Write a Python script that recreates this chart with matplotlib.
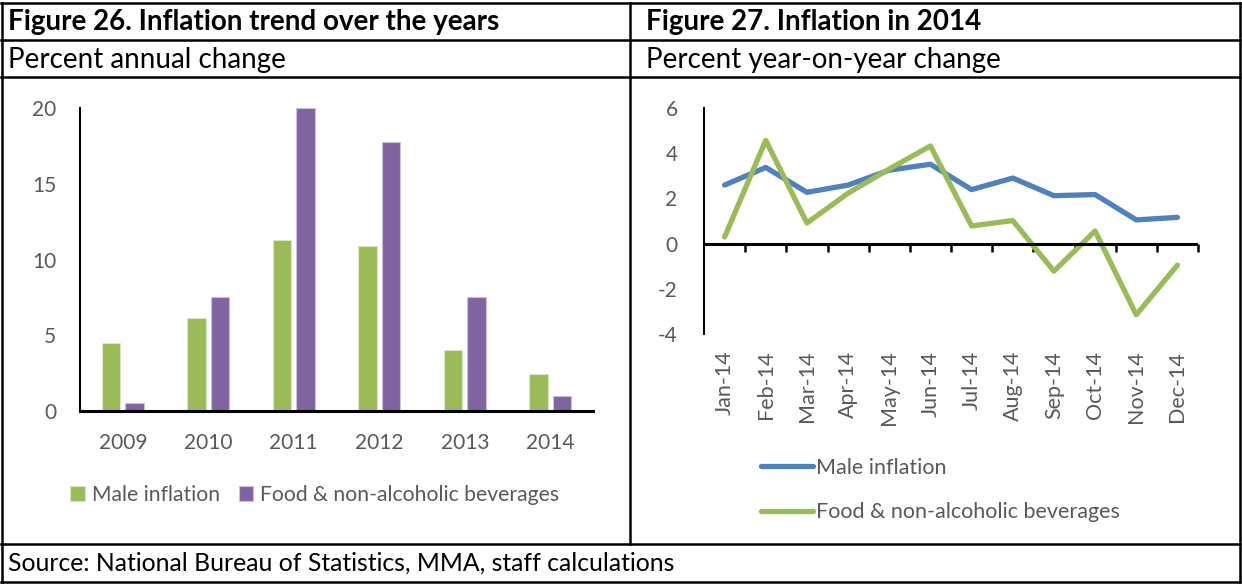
import numpy as np
import matplotlib.pyplot as plt
from matplotlib.lines import Line2D

plt.rcParams['font.family'] = ['Lato', 'DejaVu Sans']
plt.rcParams['axes.unicode_minus'] = False

years = ['2009', '2010', '2011', '2012', '2013', '2014']
male_annual = [4.5, 6.15, 11.3, 10.9, 4.0, 2.43]
food_annual = [0.5, 7.5, 20.0, 17.75, 7.5, 1.0]

months = ['Jan-14', 'Feb-14', 'Mar-14', 'Apr-14', 'May-14', 'Jun-14',
          'Jul-14', 'Aug-14', 'Sep-14', 'Oct-14', 'Nov-14', 'Dec-14']
male_2014 = [2.59, 3.37, 2.27, 2.59, 3.25, 3.51, 2.39, 2.9, 2.12, 2.17, 1.05, 1.16]
food_2014 = [0.29, 4.57, 0.91, 2.23, 3.3, 4.32, 0.78, 1.02, -1.22, 0.56, -3.15, -0.95]

green = '#9BBB59'
purple = '#8064A2'
blue = '#4F81BD'
grey = '#595959'

W, H = 1242, 585
fig = plt.figure(figsize=(W / 100, H / 100), dpi=100)


def box(l, t, r, b):
    return [l / W, 1 - b / H, (r - l) / W, (b - t) / H]


def hline(y, x0=1, x1=1240):
    fig.add_artist(Line2D([x0 / W, x1 / W], [1 - y / H, 1 - y / H], color='black', lw=1.8))


def vline(x, y0, y1):
    fig.add_artist(Line2D([x / W, x / W], [1 - y0 / H, 1 - y1 / H], color='black', lw=1.8))


# table frame
for y in [3, 40, 77, 544, 582]:
    hline(y)
vline(1.5, 3, 582)
vline(1240, 3, 582)
vline(630, 3, 544)

fig.text(8 / W, 1 - 22 / H, 'Figure 26. Inflation trend over the years', fontsize=20,
         fontweight='bold', va='center')
fig.text(646 / W, 1 - 22 / H, 'Figure 27. Inflation in 2014', fontsize=20,
         fontweight='bold', va='center')
fig.text(8 / W, 1 - 60 / H, 'Percent annual change', fontsize=20, va='center')
fig.text(646 / W, 1 - 60 / H, 'Percent year-on-year change', fontsize=20, va='center')
fig.text(8 / W, 1 - 563 / H, 'Source: National Bureau of Statistics, MMA, staff calculations',
         fontsize=17.8, va='center')

# left: bar chart
ax1 = fig.add_axes(box(80, 108, 593, 411))
x = np.arange(len(years))
w = 0.22
ax1.bar(x - 0.138, male_annual, w, color=green, edgecolor='#d9e6c3', lw=0.8,
        label='Male inflation')
ax1.bar(x + 0.138, food_annual, w, color=purple, edgecolor='#cbbfdc', lw=0.8,
        label='Food & non-alcoholic beverages')
ax1.set_xlim(-0.5, len(years) - 0.5)
ax1.set_ylim(0, 20)
ax1.set_yticks([0, 5, 10, 15, 20])
ax1.set_xticks(x)
ax1.set_xticklabels(years)
ax1.tick_params(length=0, labelsize=15, colors=grey)
ax1.tick_params(axis='y', pad=17)
ax1.tick_params(axis='x', pad=16)
for s in ['top', 'right']:
    ax1.spines[s].set_visible(False)
ax1.spines['left'].set_linewidth(1.5)
ax1.spines['bottom'].set_linewidth(2.2)
ax1.legend(loc='center left', bbox_to_anchor=(62 / W, 1 - 495 / H), bbox_transform=fig.transFigure,
           ncol=2, frameon=False, fontsize=15.2, labelcolor=grey, handlelength=0.7,
           handleheight=0.7, handletextpad=0.3, columnspacing=0.9, borderaxespad=0)

# right: line chart
ax2 = fig.add_axes(box(704, 108, 1198, 334))
m = np.arange(len(months))
ax2.plot(m, male_2014, color=blue, lw=3.8, solid_capstyle='round', label='Male inflation')
ax2.plot(m, food_2014, color=green, lw=3.8, solid_capstyle='round',
         label='Food & non-alcoholic beverages')
ax2.set_xlim(-0.5, len(months) - 0.5)
ax2.set_ylim(-4, 6)
ax2.set_yticks([-4, -2, 0, 2, 4, 6])
ax2.set_xticks(m)
ax2.set_xticklabels(months, rotation=90)
ax2.tick_params(length=0, labelsize=15.5, colors=grey)
ax2.tick_params(axis='y', labelsize=15, pad=19)
ax2.tick_params(axis='x', pad=12)
for s in ['top', 'right', 'bottom']:
    ax2.spines[s].set_visible(False)
ax2.spines['left'].set_linewidth(1.5)
ax2.axhline(0, color='black', lw=2.2)
zero_ax = ax2.secondary_xaxis(0.4)
zero_ax.spines['bottom'].set_visible(False)
zero_ax.set_xticks(np.arange(0.5, len(months) - 0.5 + 0.01, 1.0))
zero_ax.tick_params(direction='out', length=6, width=1.8, color='black', labelbottom=False)
ax2.legend(loc='upper left', bbox_to_anchor=(752 / W, 1 - 449 / H), bbox_transform=fig.transFigure,
           frameon=False, fontsize=15.5, labelcolor=grey, handlelength=2.45, handletextpad=0.1,
           labelspacing=1.15, borderaxespad=0)

fig.savefig('out.png', dpi=100)
